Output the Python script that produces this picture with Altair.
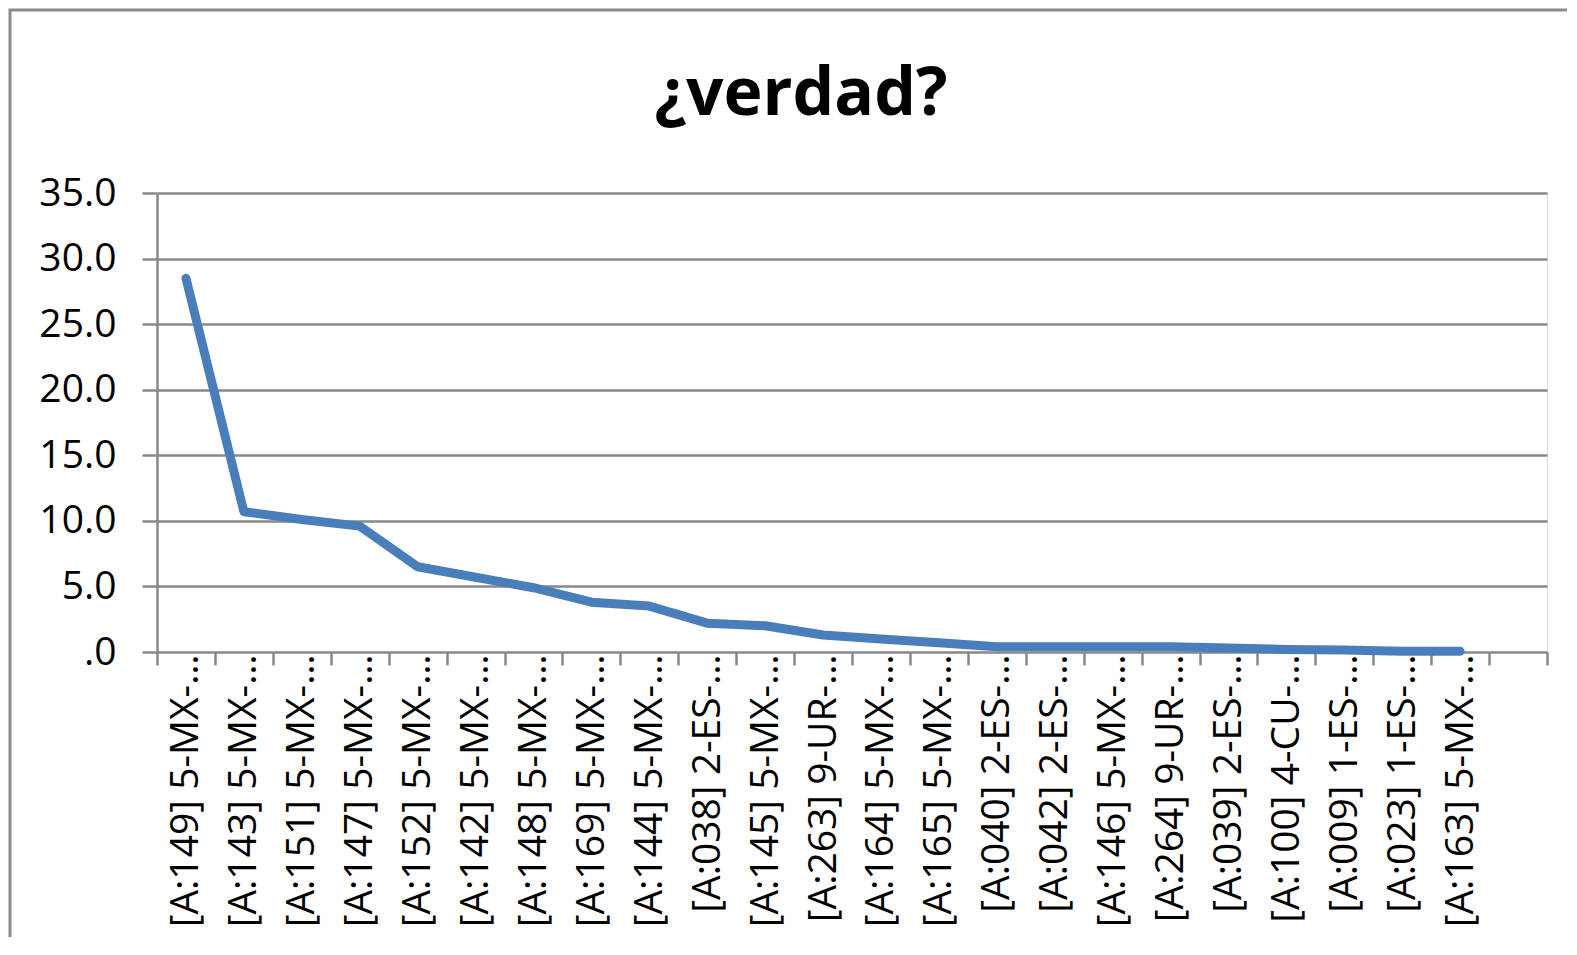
import altair as alt
import pandas as pd

categories = ["[A:149] 5-MX-…", "[A:143] 5-MX-…", "[A:151] 5-MX-…", "[A:147] 5-MX-…",
              "[A:152] 5-MX-…", "[A:142] 5-MX-…", "[A:148] 5-MX-…", "[A:169] 5-MX-…",
              "[A:144] 5-MX-…", "[A:038] 2-ES-…", "[A:145] 5-MX-…", "[A:263] 9-UR-…",
              "[A:164] 5-MX-…", "[A:165] 5-MX-…", "[A:040] 2-ES-…", "[A:042] 2-ES-…",
              "[A:146] 5-MX-…", "[A:264] 9-UR-…", "[A:039] 2-ES-…", "[A:100] 4-CU-…",
              "[A:009] 1-ES-…", "[A:023] 1-ES-…", "[A:163] 5-MX-…"]
values = [28.5, 10.7, 10.1, 9.6, 6.5, 5.7, 4.9, 3.8, 3.5, 2.2, 2.0, 1.3, 1.0, 0.7,
          0.4, 0.4, 0.4, 0.4, 0.3, 0.2, 0.15, 0.05, 0.05]
empty_slot = [" "]
y_ticks = [0, 5, 10, 15, 20, 25, 30, 35]
title_text = "¿verdad?"

df = pd.DataFrame({"cat": categories, "val": values})
domain = categories + empty_slot

FONT = "Open Sans"
GRID = "#888888"
W, H = 1390, 459

x_enc = alt.X("cat:N", sort=None, bandPosition=0.5,
              scale=alt.Scale(type="band", domain=domain, paddingInner=0, paddingOuter=0),
              axis=alt.Axis(title=None, labelAngle=-90, labelFont=FONT, labelFontSize=39,
                            labelColor="#000000", tickBand="extent", tickSize=13,
                            tickColor=GRID, tickWidth=2.5, domain=False, grid=False,
                            labelPadding=-11, labelOverlap=False, labelLimit=400))
y_enc = alt.Y("val:Q",
              scale=alt.Scale(domain=[0, 35], nice=False),
              axis=alt.Axis(title=None, values=y_ticks, labelFont=FONT, labelFontSize=39,
                            labelColor="#000000",
                            labelExpr="datum.value == 0 ? '.0' : format(datum.value, '.1f')",
                            tickSize=15, tickColor=GRID, tickWidth=2.5,
                            domainColor=GRID, domainWidth=2.5,
                            gridColor=GRID, gridWidth=2.5, labelPadding=26))

border = alt.Chart(pd.DataFrame({"a": [0]})).mark_rect(
    fill=None, stroke="#8c8c8c", strokeWidth=3, clip=False
).encode(x=alt.value(-147), x2=alt.value(W + 200), y=alt.value(-183), y2=alt.value(H + 400))

title = alt.Chart(pd.DataFrame({"t": [title_text]})).mark_text(
    font=FONT, fontSize=66, fontWeight="bold", color="#000000",
    align="center", baseline="alphabetic", clip=False
).encode(text="t:N", x=alt.value(W / 2 - 51), y=alt.value(-78))

line = alt.Chart(df).mark_line(color="#4a7ebb", strokeWidth=9, strokeCap="round",
                               strokeJoin="round").encode(x=x_enc, y=y_enc)

chart = alt.layer(border, title, line).properties(
    width=W, height=H,
    autosize=alt.AutoSizeParams(type="none"),
    padding={"left": 149, "top": 185, "right": 20, "bottom": 285},
).configure_view(stroke=None).configure(background="#ffffff")

chart.save("out.html", embed_options={"renderer": "svg", "actions": False})
